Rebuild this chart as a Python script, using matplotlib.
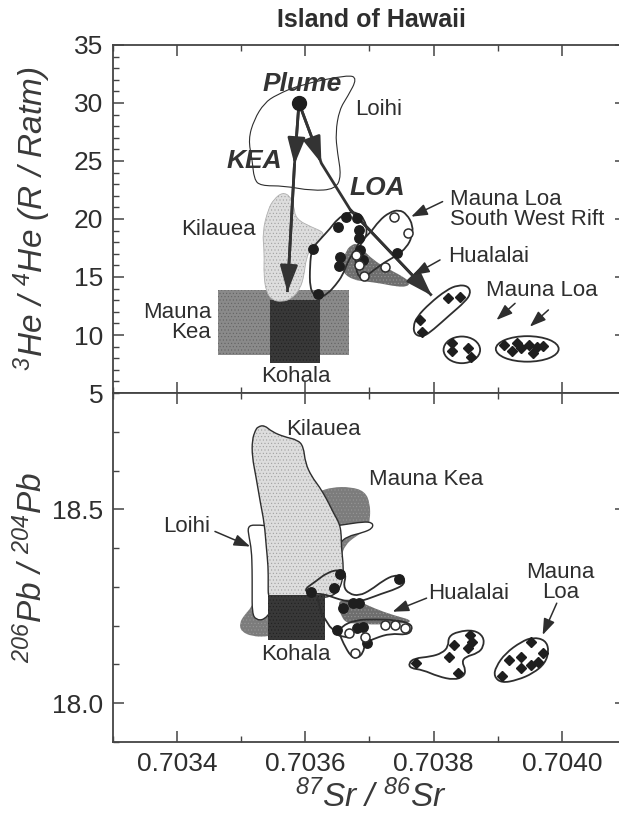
import matplotlib.pyplot as plt
from matplotlib.patches import PathPatch, Rectangle, Ellipse
from matplotlib.path import Path

plt.rcParams['font.family'] = ['Liberation Sans', 'DejaVu Sans']
plt.rcParams['mathtext.fontset'] = 'custom'
plt.rcParams['mathtext.rm'] = 'Liberation Sans:italic'
plt.rcParams['mathtext.it'] = 'Liberation Sans:italic'
plt.rcParams['hatch.linewidth'] = 0.35

INK = '#2e2e2e'

# ---------------- upper panel: 3He/4He vs 87Sr/86Sr ----------------
plume_sr, plume_he = 0.70359, 30.0
kea_sr = [0.70359, 0.703583, 0.703572]
kea_he = [30.0, 24.7, 13.7]
loa_sr = [0.70359, 0.703625, 0.70367, 0.703797]
loa_he = [30.0, 24.8, 20.8, 13.4]

loihi_he_sr = [0.703555, 0.703592, 0.703666, 0.703681, 0.703666, 0.703653, 0.703647, 0.70365,
               0.703656, 0.703647, 0.70361, 0.703567, 0.70353, 0.70352, 0.703517, 0.703511,
               0.70352, 0.703536]
loihi_he_he = [30.71, 31.57, 32.43, 32.14, 30.57, 29.43, 27.43, 25.71,
               23.71, 22.57, 22.43, 22.86, 22.86, 23.43, 25.14, 26.86,
               28.57, 30.0]

kilauea_he_sr = [0.703564, 0.703576, 0.703582, 0.703585, 0.70361, 0.703629, 0.703626, 0.70361,
                 0.703601, 0.703598, 0.703592, 0.703579, 0.703564, 0.703548, 0.703539, 0.703535,
                 0.703536, 0.703533, 0.703542, 0.703551]
kilauea_he_he = [22.29, 22.0, 21.14, 20.0, 19.29, 18.86, 18.29, 17.71,
                 16.57, 15.14, 14.0, 13.14, 12.86, 13.0, 13.71, 15.14,
                 17.14, 18.86, 20.86, 21.71]

maunakea_he_sr = (0.703463, 0.703668)
maunakea_he_he = (8.3, 13.9)
kohala_he_sr = (0.703545, 0.703623)
kohala_he_he = (7.6, 13.0)

hualalai_he_sr = [0.703664, 0.703672, 0.70368, 0.70369, 0.703706, 0.703727, 0.703748, 0.703763,
                  0.70376, 0.703742, 0.703716, 0.703696, 0.703675, 0.703659, 0.703657]
hualalai_he_he = [17.33, 17.76, 17.9, 17.33, 16.47, 15.75, 15.17, 14.6,
                  14.17, 14.17, 14.46, 14.6, 14.74, 15.32, 16.18]

loop_he_sr = [0.703616, 0.703607, 0.703607, 0.70361, 0.703626, 0.703638, 0.70365, 0.703666,
              0.703681, 0.703692, 0.703697, 0.70369, 0.703675, 0.703666, 0.703658, 0.703647,
              0.703635, 0.703622]
loop_he_he = [13.29, 14.0, 16.0, 17.43, 18.43, 19.14, 20.0, 20.57,
              20.57, 20.0, 18.86, 18.0, 17.14, 16.29, 15.14, 14.29,
              13.57, 13.2]

swrift_sr = [0.703681, 0.7037, 0.703715, 0.703731, 0.703746, 0.703758, 0.703768, 0.703766,
             0.703758, 0.703743, 0.703724, 0.703706, 0.70369, 0.703681, 0.703678, 0.703678]
swrift_he = [17.86, 18.71, 19.86, 20.57, 20.8, 20.43, 19.43, 18.43,
             17.57, 16.86, 16.29, 15.57, 14.86, 15.14, 16.29, 17.14]

filled_he_sr = [0.703612, 0.703651, 0.703663, 0.70368, 0.703684, 0.703683, 0.703685, 0.703654,
                0.703653, 0.70369, 0.70362, 0.703743]
filled_he_he = [17.45, 19.28, 20.2, 20.06, 19.05, 18.4, 17.33, 16.7,
                15.95, 16.5, 13.53, 17.04]
open_he_sr = [0.703679, 0.703684, 0.703691, 0.703724, 0.703738, 0.70376]
open_he_he = [16.9, 16.0, 15.1, 15.9, 20.2, 18.8]

ml1_he_sr = [0.703771, 0.703768, 0.703774, 0.703794, 0.70382, 0.703838, 0.703854, 0.703858,
             0.703849, 0.703825, 0.703799, 0.703784]
ml1_he_he = [10.0, 10.72, 11.58, 12.73, 13.88, 14.31, 14.22, 13.59,
             12.87, 11.72, 10.43, 9.85]
ml2_he_center, ml2_he_size = (0.703844, 8.72), (5.7e-5, 2.3)
ml3_he_center, ml3_he_size = (0.703946, 8.8), (9.8e-5, 2.2)
dia_he_sr = [0.703779, 0.703782, 0.703823, 0.703841,
             0.703828, 0.703829, 0.703854, 0.703858,
             0.703909, 0.703922, 0.70393, 0.703937, 0.703948, 0.703955, 0.703961, 0.703971]
dia_he_he = [11.29, 10.28, 13.16, 13.25,
             9.28, 8.65, 8.85, 8.13,
             9.14, 8.65, 9.34, 8.85, 9.14, 8.42, 9.0, 9.05]

# ---------------- lower panel: 206Pb/204Pb vs 87Sr/86Sr ----------------
kilauea_pb_sr = [0.703526, 0.703536, 0.703548, 0.703567, 0.703588, 0.703597, 0.7036, 0.70361,
                 0.703622, 0.703634, 0.703644, 0.703653, 0.703656, 0.703656, 0.703659, 0.703659,
                 0.703653, 0.703641, 0.703616, 0.703597, 0.703579, 0.703567, 0.703548, 0.703542,
                 0.703542, 0.703542, 0.703539, 0.703536, 0.70353, 0.703523, 0.703517, 0.703517,
                 0.703522]
kilauea_pb_pb = [18.713, 18.717, 18.7, 18.687, 18.679, 18.662, 18.619, 18.584,
                 18.558, 18.524, 18.49, 18.464, 18.438, 18.404, 18.361, 18.326,
                 18.292, 18.275, 18.271, 18.275, 18.271, 18.266, 18.258, 18.275,
                 18.309, 18.352, 18.404, 18.464, 18.515, 18.584, 18.636, 18.679,
                 18.704]

loihi_pb_sr = [0.70351, 0.70352, 0.703554, 0.703616, 0.703659, 0.70369, 0.703705, 0.703705,
               0.70369, 0.703665, 0.703653, 0.703647, 0.703641, 0.703616, 0.703567, 0.703548,
               0.703536, 0.703523, 0.703517, 0.703517, 0.703517, 0.703516, 0.703512]
loihi_pb_pb = [18.455, 18.461, 18.455, 18.451, 18.46, 18.468, 18.466, 18.451,
               18.44, 18.43, 18.412, 18.378, 18.326, 18.292, 18.258, 18.241,
               18.215, 18.215, 18.232, 18.292, 18.344, 18.395, 18.43]

maunakea_pb_sr = [0.703622, 0.703641, 0.703671, 0.703693, 0.703701, 0.703701, 0.703696, 0.703678,
                  0.703662, 0.703656, 0.703656, 0.703647, 0.703616, 0.703591, 0.703567, 0.703542,
                  0.703517, 0.7035, 0.703497, 0.703505, 0.703517, 0.703554, 0.703585, 0.70361]
maunakea_pb_pb = [18.546, 18.557, 18.558, 18.546, 18.515, 18.473, 18.447, 18.43,
                  18.408, 18.378, 18.326, 18.292, 18.258, 18.215, 18.18, 18.172,
                  18.172, 18.185, 18.206, 18.228, 18.249, 18.378, 18.507, 18.541]

kohala_pb_sr = (0.703542, 0.70363)
kohala_pb_pb = (18.162, 18.279)

hualalai_pb_sr = [0.703653, 0.703678, 0.703696, 0.703721, 0.703746, 0.703764, 0.703761, 0.703733,
                  0.703709, 0.703684, 0.703665, 0.703656, 0.703652]
hualalai_pb_pb = [18.266, 18.268, 18.253, 18.236, 18.223, 18.215, 18.206, 18.206,
                  18.202, 18.206, 18.206, 18.223, 18.249]

loop_pb_sr = [0.703597, 0.703616, 0.703634, 0.703653, 0.703664, 0.703659, 0.703668, 0.703684,
              0.703702, 0.703721, 0.703739, 0.703753, 0.703755, 0.703742, 0.703718, 0.703696,
              0.703678, 0.703659, 0.703647, 0.703628, 0.70361]
loop_pb_pb = [18.292, 18.314, 18.337, 18.345, 18.333, 18.301, 18.282, 18.277,
              18.292, 18.316, 18.331, 18.325, 18.308, 18.295, 18.282, 18.268,
              18.26, 18.265, 18.271, 18.282, 18.282]
tail_pb_sr = [0.703619, 0.703625, 0.703638, 0.703653, 0.703665]
tail_pb_pb = [18.271, 18.232, 18.198, 18.174, 18.17]

hloop_pb_sr = [0.703656, 0.703678, 0.703709, 0.703739, 0.703764, 0.703767, 0.703758, 0.703733,
               0.703709, 0.703693, 0.70369, 0.703681, 0.703671, 0.703659, 0.703653]
hloop_pb_pb = [18.198, 18.215, 18.216, 18.215, 18.206, 18.189, 18.176, 18.18,
               18.168, 18.155, 18.129, 18.116, 18.12, 18.155, 18.18]

filled_pb_sr = [0.703654, 0.703644, 0.703609, 0.703746, 0.703659, 0.703675, 0.703684,
                0.70365, 0.703681, 0.70369, 0.703696]
filled_pb_pb = [18.333, 18.296, 18.288, 18.32, 18.245, 18.259, 18.259,
                18.189, 18.193, 18.196, 18.155]
open_pb_sr = [0.703668, 0.703678, 0.703693, 0.703724, 0.703739, 0.703755]
open_pb_pb = [18.18, 18.129, 18.172, 18.202, 18.202, 18.193]

ml1_pb_sr = [0.703761, 0.70377, 0.703795, 0.703813, 0.703823, 0.703823, 0.703838, 0.703863,
             0.703878, 0.703878, 0.703869, 0.70385, 0.703844, 0.70385, 0.703847, 0.703832,
             0.703807, 0.703783, 0.703764]
ml1_pb_pb = [18.103, 18.116, 18.12, 18.129, 18.146, 18.172, 18.185, 18.189,
             18.172, 18.146, 18.129, 18.12, 18.107, 18.086, 18.069, 18.06,
             18.069, 18.086, 18.09]
ml2_pb_sr = [0.703894, 0.703897, 0.703912, 0.703937, 0.703955, 0.703974, 0.70398, 0.703974,
             0.703955, 0.703931, 0.703906]
ml2_pb_pb = [18.069, 18.094, 18.129, 18.159, 18.17, 18.163, 18.137, 18.103,
             18.077, 18.06, 18.052]
dia_pb_sr = [0.703773, 0.703824, 0.703838, 0.703832, 0.703857, 0.70386, 0.703853,
             0.703906, 0.703918, 0.703937, 0.703952, 0.703937, 0.703952, 0.703962, 0.703971]
dia_pb_pb = [18.105, 18.12, 18.077, 18.15, 18.176, 18.159, 18.142,
             18.07, 18.112, 18.12, 18.159, 18.09, 18.099, 18.107, 18.129]

sr_major = [0.7034, 0.7036, 0.7038, 0.7040]
sr_labels = ['0.7034', '0.7036', '0.7038', '0.7040']
he_major = [5, 10, 15, 20, 25, 30, 35]
pb_major = [18.0, 18.5]
pb_labels = ['18.0', '18.5']


def smooth(xs, ys):
    # closed quadratic-Bezier outline using the traced points as control points
    n = len(xs)
    mids = [((xs[i] + xs[(i + 1) % n]) / 2, (ys[i] + ys[(i + 1) % n]) / 2) for i in range(n)]
    verts, codes = [mids[-1]], [Path.MOVETO]
    for i in range(n):
        verts += [(xs[i], ys[i]), mids[i]]
        codes += [Path.CURVE3, Path.CURVE3]
    verts.append(mids[-1])
    codes.append(Path.CLOSEPOLY)
    return Path(verts, codes)


def blob(ax, xs, ys, face, edge=INK, lw=1.2, hatch=None, z=1):
    p = smooth(xs, ys)
    if face is not None:
        ax.add_patch(PathPatch(p, fc=face, ec=face if hatch is None else '#9a9a9a',
                               lw=0, hatch=hatch, zorder=z))
    if edge is not None:
        ax.add_patch(PathPatch(p, fill=False, ec=edge, lw=lw, zorder=z + 0.1))


def box(ax, xr, yr, face, hatch_col, z):
    ax.add_patch(Rectangle((xr[0], yr[0]), xr[1] - xr[0], yr[1] - yr[0],
                           fc=face, ec=hatch_col, lw=0, hatch='.....', zorder=z))


def head(ax, x0, y0, x1, y1):
    ax.annotate('', xy=(x1, y1), xytext=(x0, y0), zorder=8,
                arrowprops=dict(arrowstyle='-|>,head_length=0.9,head_width=0.3',
                                color='#333333', lw=2.0, mutation_scale=18,
                                shrinkA=0, shrinkB=0))


def pointer(ax, x0, y0, x1, y1):
    ax.annotate('', xy=(x1, y1), xytext=(x0, y0), zorder=8,
                arrowprops=dict(arrowstyle='-|>,head_length=0.7,head_width=0.25',
                                color=INK, lw=1.1, mutation_scale=14,
                                shrinkA=0, shrinkB=0))


def style(ax):
    ax.set_xlim(0.7033, 0.7041)
    ax.set_xticks(sr_major)
    ax.set_xticks([0.7033 + 0.0001 * k for k in range(9)], minor=True)
    for s in ax.spines.values():
        s.set_linewidth(1.3)
        s.set_color('#444444')
    ax.tick_params(which='both', direction='in', top=True, right=True,
                   colors='#444444', labelcolor=INK, labelsize=19, pad=7)
    ax.tick_params(which='major', length=8, width=1.1)
    ax.tick_params(which='minor', length=4.3, width=1.0)


fig = plt.figure(figsize=(6.19, 8.13), dpi=100)
W = (626 - 113) / 619
ax1 = fig.add_axes([113 / 619, 1 - 393 / 813, W, 348 / 813])
ax2 = fig.add_axes([113 / 619, 1 - 742 / 813, W, 349 / 813])

# upper panel
style(ax1)
ax1.set_ylim(5, 35)
ax1.set_yticks(he_major)
ax1.set_yticks(range(5, 36), minor=True)
ax1.tick_params(labelbottom=False)

blob(ax1, loihi_he_sr, loihi_he_he, None, lw=0.8, z=1)
box(ax1, maunakea_he_sr, maunakea_he_he, '#8a8a8a', '#5e5e5e', 2)
box(ax1, kohala_he_sr, kohala_he_he, '#383838', '#1e1e1e', 3)
blob(ax1, kilauea_he_sr, kilauea_he_he, '#dddddd', edge='#b0b0b0', lw=0.6, hatch='.....', z=4)
blob(ax1, hualalai_he_sr, hualalai_he_he, '#6e6e6e', edge=None, hatch='.....', z=5)
blob(ax1, loop_he_sr, loop_he_he, None, lw=1.3, z=6)
blob(ax1, swrift_sr, swrift_he, None, lw=1.3, z=6)
blob(ax1, ml1_he_sr, ml1_he_he, None, lw=1.3, z=6)
for c, sz in [(ml2_he_center, ml2_he_size), (ml3_he_center, ml3_he_size)]:
    ax1.add_patch(Ellipse(c, sz[0], sz[1], fill=False, ec=INK, lw=1.3, zorder=6))

ax1.plot(kea_sr, kea_he, color='#333333', lw=2.0, zorder=8, solid_capstyle='butt')
ax1.plot(loa_sr, loa_he, color='#333333', lw=2.0, zorder=8, solid_capstyle='butt')
head(ax1, kea_sr[0], kea_he[0], kea_sr[1], kea_he[1])
head(ax1, kea_sr[1], kea_he[1], kea_sr[2], kea_he[2])
head(ax1, loa_sr[0], loa_he[0], loa_sr[1], loa_he[1])
head(ax1, loa_sr[2], loa_he[2], loa_sr[3], loa_he[3])

ax1.plot(filled_he_sr, filled_he_he, 'o', ms=6.8, mfc='#1e1e1e', mec='#1e1e1e', zorder=9)
ax1.plot(open_he_sr, open_he_he, 'o', ms=6.5, mfc='white', mec=INK, mew=1.1, zorder=9)
ax1.plot(dia_he_sr, dia_he_he, 'D', ms=5.2, mfc='#1e1e1e', mec='#1e1e1e', zorder=9)
ax1.plot([plume_sr], [plume_he], 'o', ms=10, mfc='#1e1e1e', mec='#1e1e1e', zorder=10)

bold = dict(fontsize=19, fontweight='bold', fontstyle='italic', color='#333333',
            ha='center', va='center', zorder=11)
ax1.text(0.703595, 31.6, 'Plume', **bold)
ax1.text(0.70352, 25.0, 'KEA', **bold)
ax1.text(0.703712, 22.7, 'LOA', **bold)

lab = dict(fontsize=16, color=INK, va='center', zorder=11)
ax1.text(0.703678, 29.4, 'Loihi', ha='left', **lab)
ax1.text(0.703522, 19.1, 'Kilauea', ha='right', **lab)
ax1.text(0.703453, 11.1, 'Mauna\nKea', ha='right', linespacing=0.95, **lab)
ax1.text(0.703585, 6.4, 'Kohala', ha='center', **lab)
ax1.text(0.703826, 20.85, 'Mauna Loa\nSouth West Rift', ha='left', linespacing=0.95, **lab)
ax1.text(0.703823, 16.75, 'Hualalai', ha='left', **lab)
ax1.text(0.703882, 13.82, 'Mauna Loa', ha='left', **lab)
pointer(ax1, 0.703814, 21.5, 0.703765, 20.2)
pointer(ax1, 0.70381, 16.47, 0.703768, 15.17)
pointer(ax1, 0.703927, 12.73, 0.703898, 11.29)
pointer(ax1, 0.703979, 12.16, 0.70395, 10.72)

# lower panel
style(ax2)
ax2.set_ylim(17.9, 18.8)
ax2.set_yticks(pb_major)
ax2.set_yticklabels(pb_labels)
ax2.set_yticks([17.9 + 0.1 * k for k in range(10)], minor=True)
ax2.set_xticklabels(sr_labels)

blob(ax2, maunakea_pb_sr, maunakea_pb_pb, '#7c7c7c', edge=None, hatch='.....', z=1)
blob(ax2, loihi_pb_sr, loihi_pb_pb, 'white', lw=1.0, z=2)
blob(ax2, kilauea_pb_sr, kilauea_pb_pb, '#dddddd', lw=1.0, hatch='.....', z=3)
box(ax2, kohala_pb_sr, kohala_pb_pb, '#383838', '#1e1e1e', 4)
blob(ax2, hualalai_pb_sr, hualalai_pb_pb, '#6e6e6e', edge=None, hatch='.....', z=5)
blob(ax2, loop_pb_sr, loop_pb_pb, None, lw=1.3, z=6)
ax2.plot(tail_pb_sr, tail_pb_pb, color=INK, lw=1.3, zorder=6)
blob(ax2, hloop_pb_sr, hloop_pb_pb, None, lw=1.3, z=6)
blob(ax2, ml1_pb_sr, ml1_pb_pb, None, lw=1.3, z=6)
blob(ax2, ml2_pb_sr, ml2_pb_pb, None, lw=1.3, z=6)

ax2.plot(filled_pb_sr, filled_pb_pb, 'o', ms=6.8, mfc='#1e1e1e', mec='#1e1e1e', zorder=9)
ax2.plot(open_pb_sr, open_pb_pb, 'o', ms=6.5, mfc='white', mec=INK, mew=1.1, zorder=9)
ax2.plot(dia_pb_sr, dia_pb_pb, 'D', ms=5.2, mfc='#1e1e1e', mec='#1e1e1e', zorder=9)

ax2.text(0.70357, 18.706, 'Kilauea', ha='left', **lab)
ax2.text(0.703699, 18.576, 'Mauna Kea', ha='left', **lab)
ax2.text(0.703452, 18.455, 'Loihi', ha='right', **lab)
ax2.text(0.703792, 18.284, 'Hualalai', ha='left', **lab)
ax2.text(0.703998, 18.312, 'Mauna\nLoa', ha='center', linespacing=0.95, **lab)
ax2.text(0.703585, 18.125, 'Kohala', ha='center', **lab)
pointer(ax2, 0.703459, 18.443, 0.703514, 18.404)
pointer(ax2, 0.703789, 18.271, 0.703736, 18.236)
pointer(ax2, 0.703992, 18.258, 0.70397, 18.176)

# titles and axis labels
fig.text(371 / 619, 1 - 20 / 813, 'Island of Hawaii', fontsize=18, fontweight='bold',
         color=INK, ha='center', va='center')
fig.text(32 / 619, 1 - 219 / 813, r'$^{3}$He / $^{4}$He (R / Ratm)', rotation=90,
         fontsize=24, fontstyle='italic', color='#3a3a3a', ha='center', va='center')
fig.text(32 / 619, 1 - 568 / 813, r'$^{206}$Pb / $^{204}$Pb', rotation=90,
         fontsize=24, fontstyle='italic', color='#3a3a3a', ha='center', va='center')
fig.text(371 / 619, 1 - 797 / 813, r'$^{87}$Sr / $^{86}$Sr',
         fontsize=24, fontstyle='italic', color='#3a3a3a', ha='center', va='center')

fig.savefig('out.png', dpi=100, facecolor='white')
